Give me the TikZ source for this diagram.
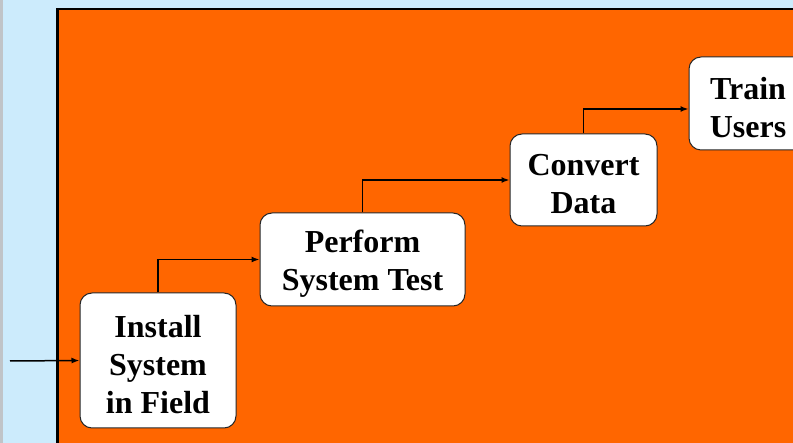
\documentclass[tikz,border=0pt]{standalone}
\usepackage{fontspec}
\setmainfont{Liberation Serif}
\usetikzlibrary{arrows.meta,calc}
\definecolor{bgblue}{HTML}{CCEBFC}
\definecolor{orng}{HTML}{FF6600}
\definecolor{edgegray}{HTML}{C0C4C8}
\newcommand{\tstrut}{\rule{0pt}{30pt}}
\tikzset{
  stepbox/.style={draw=black!85, line width=1pt, fill=white, rounded corners=12pt,
    align=center, inner sep=0pt, font=\fontsize{32}{38}\selectfont\bfseries},
  arr/.style={line width=1.5pt, -{Latex[length=8pt,width=6pt]}}
}
\begin{document}
\begin{tikzpicture}[x=1pt,y=-1pt]
\useasboundingbox (0,0) rectangle (793,443);
\clip (0,0) rectangle (793,443);
\fill[bgblue] (0,0) rectangle (793,443);
\fill[edgegray] (0,0) rectangle (2.5,443);
\draw[black, line width=2.5pt, fill=orng] (57.5,9) rectangle (820,470);
\node[stepbox, minimum width=156pt, minimum height=135pt] (install) at (158,360.5) {\tstrut Install\\System\\in Field};
\node[stepbox, minimum width=205pt, minimum height=93pt] (perform) at (362.5,259.5) {\tstrut Perform\\System Test};
\node[stepbox, minimum width=147pt, minimum height=92pt] (convert) at (583.5,180) {\tstrut Convert\\Data};
\node[stepbox, minimum width=118pt, minimum height=93pt] (train) at (748,103.5) {\tstrut Train\\Users};
\coordinate (in) at (10,361);
\draw[arr] (in) -- (install.west);
\draw[arr] (install.north) |- (perform.west);
\draw[arr] (perform.north) |- (convert.west);
\draw[arr] (convert.north) |- ($(train.west)+(0,5.5)$);
\end{tikzpicture}
\end{document}
